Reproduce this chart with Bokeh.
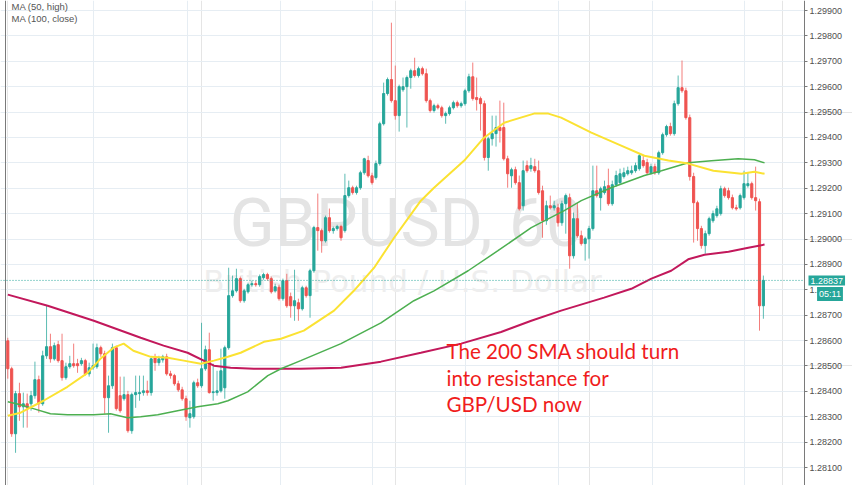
from bokeh.plotting import figure
from bokeh.models import (Range1d, SingleIntervalTicker, PrintfTickFormatter, FixedTicker,
                          Grid, Span, Label, ColumnDataSource, LinearAxis)
from bokeh.embed import file_html
from bokeh.resources import INLINE

# ---------------- data (GBPUSD, 60 min) ----------------
opens = [
    1.28599, 1.28489, 1.28233, 1.28391, 1.28339, 1.28351, 1.28351, 1.28383, 1.28446, 1.28351,
    1.28540, 1.28576, 1.28528, 1.28584, 1.28521, 1.28454, 1.28497, 1.28509, 1.28509, 1.28509,
    1.28521, 1.28469, 1.28493, 1.28497, 1.28572, 1.28548, 1.28375, 1.28422, 1.28572, 1.28383,
    1.28371, 1.28387, 1.28245, 1.28387, 1.28391, 1.28395, 1.28402, 1.28395, 1.28532, 1.28513,
    1.28524, 1.28536, 1.28469, 1.28462, 1.28430, 1.28406, 1.28371, 1.28296, 1.28300, 1.28434,
    1.28422, 1.28489, 1.28564, 1.28395, 1.28395, 1.28402, 1.28414, 1.28572, 1.28777, 1.28796,
    1.28844, 1.28757, 1.28792, 1.28820, 1.28824, 1.28820, 1.28848, 1.28860, 1.28844, 1.28796,
    1.28810, 1.28765, 1.28836, 1.28773, 1.28737, 1.28749, 1.28725, 1.28808, 1.28777, 1.28875,
    1.29045, 1.29033, 1.28993, 1.29084, 1.29033, 1.29041, 1.29049, 1.29033, 1.29171, 1.29202,
    1.29183, 1.29202, 1.29261, 1.29309, 1.29249, 1.29242, 1.29297, 1.29454, 1.29573, 1.29628,
    1.29545, 1.29486, 1.29588, 1.29600, 1.29636, 1.29663, 1.29644, 1.29671, 1.29651, 1.29545,
    1.29506, 1.29525, 1.29517, 1.29486, 1.29494, 1.29517, 1.29537, 1.29525, 1.29533, 1.29584,
    1.29639, 1.29557, 1.29553, 1.29533, 1.29321, 1.29395, 1.29415, 1.29439, 1.29439, 1.29316,
    1.29249, 1.29273, 1.29222, 1.29131, 1.29289, 1.29277, 1.29285, 1.29269, 1.29190, 1.29072,
    1.29131, 1.29123, 1.29123, 1.29064, 1.29139, 1.29163, 1.28934, 1.29080, 1.29013, 1.28982,
    1.29001, 1.29041, 1.29190, 1.29163, 1.29183, 1.29210, 1.29139, 1.29214, 1.29222, 1.29246,
    1.29257, 1.29261, 1.29269, 1.29277, 1.29309, 1.29301, 1.29261, 1.29285, 1.29261, 1.29340,
    1.29411, 1.29443, 1.29415, 1.29533, 1.29596, 1.29584, 1.29478, 1.29246, 1.29143, 1.29041,
    1.28974, 1.29021, 1.29072, 1.29092, 1.29100, 1.29198, 1.29190, 1.29163, 1.29123, 1.29123,
    1.29163, 1.29210, 1.29218, 1.29163, 1.29147, 1.28737,
]
highs = [
    1.28611, 1.28497, 1.28402, 1.28434, 1.28395, 1.28391, 1.28402, 1.28517, 1.28462, 1.28560,
    1.28737, 1.28627, 1.28592, 1.28599, 1.28627, 1.28513, 1.28540, 1.28588, 1.28528, 1.28532,
    1.28528, 1.28513, 1.28588, 1.28588, 1.28580, 1.28560, 1.28462, 1.28588, 1.28580, 1.28458,
    1.28458, 1.28402, 1.28395, 1.28462, 1.28462, 1.28462, 1.28442, 1.28532, 1.28548, 1.28540,
    1.28544, 1.28548, 1.28481, 1.28469, 1.28442, 1.28418, 1.28383, 1.28363, 1.28442, 1.28450,
    1.28670, 1.28580, 1.28631, 1.28509, 1.28481, 1.28568, 1.28580, 1.28887, 1.28856, 1.28883,
    1.28852, 1.28804, 1.28828, 1.28836, 1.28836, 1.28860, 1.28867, 1.28867, 1.28852, 1.28824,
    1.28820, 1.28844, 1.28863, 1.28789, 1.28879, 1.28765, 1.28816, 1.28816, 1.28883, 1.29052,
    1.29179, 1.29041, 1.29092, 1.29120, 1.29049, 1.29056, 1.29056, 1.29257, 1.29230, 1.29210,
    1.29210, 1.29269, 1.29320, 1.29328, 1.29261, 1.29309, 1.29462, 1.29616, 1.29636, 1.29852,
    1.29683, 1.29608, 1.29636, 1.29644, 1.29671, 1.29714, 1.29679, 1.29679, 1.29671, 1.29553,
    1.29533, 1.29533, 1.29525, 1.29502, 1.29525, 1.29545, 1.29545, 1.29541, 1.29592, 1.29651,
    1.29695, 1.29636, 1.29561, 1.29545, 1.29403, 1.29486, 1.29486, 1.29545, 1.29537, 1.29328,
    1.29281, 1.29285, 1.29250, 1.29309, 1.29309, 1.29320, 1.29316, 1.29309, 1.29210, 1.29151,
    1.29171, 1.29151, 1.29139, 1.29151, 1.29179, 1.29179, 1.29104, 1.29143, 1.29033, 1.29009,
    1.29052, 1.29289, 1.29289, 1.29206, 1.29230, 1.29277, 1.29230, 1.29269, 1.29277, 1.29281,
    1.29285, 1.29289, 1.29301, 1.29336, 1.29328, 1.29316, 1.29297, 1.29297, 1.29348, 1.29419,
    1.29450, 1.29458, 1.29545, 1.29644, 1.29703, 1.29596, 1.29490, 1.29261, 1.29151, 1.29052,
    1.29033, 1.29088, 1.29112, 1.29131, 1.29210, 1.29206, 1.29202, 1.29175, 1.29135, 1.29179,
    1.29269, 1.29261, 1.29226, 1.29285, 1.29159, 1.28856,
]
lows = [
    1.28450, 1.28221, 1.28158, 1.28284, 1.28257, 1.28257, 1.28324, 1.28371, 1.28316, 1.28343,
    1.28528, 1.28513, 1.28521, 1.28513, 1.28442, 1.28446, 1.28489, 1.28493, 1.28473, 1.28501,
    1.28462, 1.28458, 1.28485, 1.28489, 1.28536, 1.28312, 1.28237, 1.28410, 1.28324, 1.28316,
    1.28363, 1.28237, 1.28233, 1.28335, 1.28363, 1.28383, 1.28383, 1.28383, 1.28481, 1.28501,
    1.28513, 1.28462, 1.28450, 1.28422, 1.28398, 1.28363, 1.28284, 1.28257, 1.28292, 1.28414,
    1.28414, 1.28481, 1.28391, 1.28363, 1.28383, 1.28395, 1.28371, 1.28564, 1.28769, 1.28789,
    1.28749, 1.28749, 1.28785, 1.28812, 1.28812, 1.28812, 1.28840, 1.28836, 1.28785, 1.28789,
    1.28757, 1.28757, 1.28729, 1.28690, 1.28678, 1.28678, 1.28718, 1.28769, 1.28690, 1.28867,
    1.28954, 1.28946, 1.28986, 1.29025, 1.29021, 1.29033, 1.28993, 1.29025, 1.29163, 1.29175,
    1.29175, 1.29194, 1.29253, 1.29242, 1.29214, 1.29234, 1.29289, 1.29447, 1.29565, 1.29537,
    1.29470, 1.29423, 1.29580, 1.29439, 1.29592, 1.29636, 1.29636, 1.29644, 1.29537, 1.29498,
    1.29498, 1.29510, 1.29478, 1.29454, 1.29486, 1.29510, 1.29517, 1.29517, 1.29525, 1.29576,
    1.29545, 1.29506, 1.29427, 1.29309, 1.29269, 1.29368, 1.29364, 1.29380, 1.29309, 1.29202,
    1.29202, 1.29214, 1.29112, 1.29112, 1.29261, 1.29265, 1.29261, 1.29175, 1.29005, 1.29056,
    1.29116, 1.29112, 1.29049, 1.29052, 1.29021, 1.28883, 1.28923, 1.29005, 1.28974, 1.28915,
    1.28923, 1.29033, 1.29163, 1.29112, 1.29175, 1.29131, 1.29131, 1.29206, 1.29214, 1.29238,
    1.29250, 1.29253, 1.29261, 1.29269, 1.29281, 1.29253, 1.29253, 1.29253, 1.29253, 1.29332,
    1.29403, 1.29407, 1.29407, 1.29525, 1.29576, 1.29470, 1.29230, 1.28986, 1.28993, 1.28962,
    1.28942, 1.29013, 1.29064, 1.29084, 1.29092, 1.29163, 1.29155, 1.29116, 1.29112, 1.29116,
    1.29155, 1.29202, 1.29155, 1.29112, 1.28639, 1.28686,
]
closes = [
    1.28489, 1.28233, 1.28391, 1.28339, 1.28351, 1.28335, 1.28383, 1.28446, 1.28351, 1.28540,
    1.28576, 1.28528, 1.28580, 1.28521, 1.28454, 1.28497, 1.28509, 1.28501, 1.28501, 1.28521,
    1.28469, 1.28493, 1.28501, 1.28572, 1.28548, 1.28375, 1.28422, 1.28572, 1.28332, 1.28324,
    1.28387, 1.28245, 1.28387, 1.28395, 1.28395, 1.28402, 1.28395, 1.28528, 1.28513, 1.28528,
    1.28536, 1.28469, 1.28462, 1.28430, 1.28406, 1.28371, 1.28300, 1.28312, 1.28434, 1.28422,
    1.28489, 1.28564, 1.28395, 1.28398, 1.28402, 1.28481, 1.28572, 1.28777, 1.28796, 1.28844,
    1.28757, 1.28796, 1.28820, 1.28824, 1.28820, 1.28852, 1.28860, 1.28844, 1.28792, 1.28812,
    1.28765, 1.28836, 1.28737, 1.28737, 1.28757, 1.28725, 1.28808, 1.28777, 1.28875, 1.29045,
    1.29033, 1.28993, 1.29084, 1.29033, 1.29041, 1.29049, 1.29005, 1.29171, 1.29202, 1.29183,
    1.29202, 1.29261, 1.29316, 1.29249, 1.29222, 1.29297, 1.29454, 1.29573, 1.29628, 1.29545,
    1.29486, 1.29600, 1.29600, 1.29636, 1.29663, 1.29644, 1.29671, 1.29651, 1.29545, 1.29506,
    1.29525, 1.29517, 1.29486, 1.29494, 1.29517, 1.29537, 1.29525, 1.29533, 1.29584, 1.29639,
    1.29553, 1.29549, 1.29533, 1.29321, 1.29395, 1.29415, 1.29439, 1.29427, 1.29316, 1.29257,
    1.29273, 1.29222, 1.29119, 1.29269, 1.29269, 1.29289, 1.29269, 1.29183, 1.29072, 1.29131,
    1.29123, 1.29131, 1.29064, 1.29139, 1.29171, 1.28934, 1.29080, 1.29013, 1.28982, 1.29001,
    1.29041, 1.29190, 1.29171, 1.29198, 1.29206, 1.29139, 1.29214, 1.29250, 1.29257, 1.29261,
    1.29269, 1.29269, 1.29289, 1.29328, 1.29289, 1.29261, 1.29285, 1.29261, 1.29340, 1.29411,
    1.29443, 1.29415, 1.29533, 1.29596, 1.29584, 1.29478, 1.29246, 1.29143, 1.29041, 1.28974,
    1.29021, 1.29080, 1.29100, 1.29119, 1.29198, 1.29171, 1.29163, 1.29123, 1.29119, 1.29171,
    1.29218, 1.29218, 1.29163, 1.29151, 1.28737, 1.28837,
]

# moving averages (bar index, price)
ma50_high_idx = [0, 3.3, 9.2, 15.4, 20.6, 23.9, 27.3, 29.9, 32.4, 36.9, 41.3, 45.4, 49.8, 53.2,
                 56.8, 60.1, 66.1, 70.5, 76.4, 84.2, 89.3, 94.5, 99.7, 106.6, 110.0, 117.8,
                 122.9, 128.1, 135.8, 139.5, 142.8, 150.6, 158.3, 164.3, 170.5, 175.6, 182.1,
                 189.3, 192.7, 195.3]
ma50_high = [1.28304, 1.28316, 1.28363, 1.28418, 1.28473, 1.28528, 1.28572, 1.28588, 1.28560,
             1.28536, 1.28532, 1.28521, 1.28509, 1.28521, 1.28536, 1.28552, 1.28595, 1.28607,
             1.28639, 1.28718, 1.28796, 1.28886, 1.29005, 1.29151, 1.29202, 1.29309, 1.29399,
             1.29458, 1.29494, 1.29494, 1.29478, 1.29419, 1.29368, 1.29328, 1.29309, 1.29297,
             1.29269, 1.29257, 1.29265, 1.29257]

ma100_close_idx = [0, 3.3, 6.6, 11.0, 15.4, 22.2, 26.5, 30.9, 34.3, 38.7, 43.8, 49.0, 54.2, 56.8,
                   61.9, 67.1, 70.5, 75.6, 86.0, 96.3, 104.8, 110.0, 118.8, 126.5, 135.1, 143.6,
                   148.0, 155.7, 164.3, 168.7, 175.6, 181.6, 188.5, 192.7, 195.3]
ma100_close = [1.28359, 1.28347, 1.28332, 1.28312, 1.28308, 1.28308, 1.28312, 1.28296, 1.28300,
               1.28308, 1.28324, 1.28339, 1.28351, 1.28363, 1.28398, 1.28462, 1.28489, 1.28521,
               1.28588, 1.28670, 1.28757, 1.28796, 1.28875, 1.28954, 1.29045, 1.29112, 1.29151,
               1.29202, 1.29250, 1.29269, 1.29300, 1.29308, 1.29316, 1.29312, 1.29300]

sma200_idx = [0, 10.3, 22.2, 34.3, 40.2, 46.4, 53.2, 57.5, 63.5, 70.5, 75.6, 86.0, 96.3, 106.6,
              117.0, 127.3, 135.1, 142.8, 153.9, 160.9, 166.1, 171.2, 175.6, 179.8, 186.0,
              191.1, 195.3]
sma200 = [1.28781, 1.28737, 1.28678, 1.28611, 1.28580, 1.28552, 1.28501, 1.28493, 1.28489,
          1.28489, 1.28489, 1.28493, 1.28517, 1.28552, 1.28588, 1.28634, 1.28678, 1.28718,
          1.28769, 1.28804, 1.28844, 1.28875, 1.28920, 1.28938, 1.28950, 1.28966, 1.28978]

day_ticks = [22.2, 46.3, 70.3, 94.2, 118.2, 142.1, 166.3, 190.2]
last_price = 1.28837
last_price_text = "1.28837"
countdown_text = "05:11"
legend_texts = ["MA (50, high)", "MA (100, close)"]
note_lines = ["The 200 SMA should turn", "into resistance for", "GBP/USD now"]

# ---------------- styles ----------------
TEAL = "#26a69a"
RED = "#ef5350"
GRID = "#e6edf3"
YELLOW = "#fbe232"
GREEN = "#4caf50"
CRIMSON = "#c2185b"
X0, X1 = -1.884, 218.0          # visible bar-index range (full width)
AXIS_X = 205.6                  # where the price scale sits
Y0, Y1 = 1.280292, 1.299394

n = len(closes)
idx = list(range(n))
up = [c >= o for o, c in zip(opens, closes)]
src = ColumnDataSource(dict(
    x=idx, high=highs, low=lows,
    top=[max(o, c) for o, c in zip(opens, closes)],
    bottom=[min(o, c) for o, c in zip(opens, closes)],
    color=[TEAL if u else RED for u in up],
))

p = figure(frame_width=852, frame_height=485,
           x_range=Range1d(X0, X1), y_range=Range1d(Y0, Y1),
           y_axis_location=None, x_axis_location=None,
           output_backend="svg", toolbar_location=None, min_border=0,
           background_fill_color="white", border_fill_color="white",
           outline_line_color=None)

ax = LinearAxis(fixed_location=AXIS_X)
ax.ticker = SingleIntervalTicker(interval=0.001, num_minor_ticks=0)
ax.formatter = PrintfTickFormatter(format="%.5f")
ax.major_tick_out = 3
ax.major_tick_in = 0
ax.minor_tick_out = 0
ax.minor_tick_in = 0
ax.major_label_standoff = 2
ax.axis_line_color = "#7a7a7a"
ax.major_tick_line_color = "#7a7a7a"
ax.major_label_text_font = "Liberation Sans"
ax.major_label_text_font_size = "9px"
ax.major_label_text_color = "#4f4f4f"
p.add_layout(ax, "right")

hgrid = Grid(dimension=1, ticker=ax.ticker, grid_line_color=GRID)
try:
    hgrid.cross_bounds = (X0, AXIS_X)
except Exception:
    pass
p.add_layout(hgrid)
vgrid = Grid(dimension=0, ticker=FixedTicker(ticks=day_ticks), grid_line_color=GRID)
p.add_layout(vgrid)

# watermark
p.add_layout(Label(x=406, y=262.5, x_units="screen", y_units="screen", text="GBPUSD, 60",
                   text_align="center", text_baseline="alphabetic",
                   text_font="Roboto",
                   text_font_size="66px", text_color="#e4e4e4", level="underlay"))
p.add_layout(Label(x=402, y=204.5, x_units="screen", y_units="screen",
                   text="British Pound / U.S. Dollar",
                   text_align="center", text_baseline="alphabetic", text_font="DejaVu Sans",
                   text_font_size="31px", text_color="#eeeeee", level="underlay"))

# candles
p.segment(x0="x", y0="low", x1="x", y1="high", source=src, line_color="color",
          line_alpha=0.75, line_width=1)
p.vbar(x="x", width=0.55, top="top", bottom="bottom", source=src,
       fill_color="color", line_color="color", line_width=1)

# moving averages
p.line(sma200_idx, sma200, line_color=CRIMSON, line_width=2)
p.line(ma100_close_idx, ma100_close, line_color=GREEN, line_width=1.5)
p.line(ma50_high_idx, ma50_high, line_color=YELLOW, line_width=2)

# last price line (up to the price scale) and left border
p.line([X0, AXIS_X], [last_price, last_price], line_color=TEAL, line_dash="1 2", line_width=1)
p.add_layout(Span(location=-0.59, dimension="height", line_color="#7a7a7a", line_width=1))

# legend texts
for i, t in enumerate(legend_texts):
    p.add_layout(Label(x=11, y=484.3 - 11.5 * i, x_units="screen", y_units="screen", text=t,
                       text_align="left", text_baseline="top", text_font="Liberation Sans",
                       text_font_size="9.5px", text_color="#555555"))

# annotation
for i, t in enumerate(note_lines):
    p.add_layout(Label(x=446, y=134.3 - 26.3 * i, x_units="screen", y_units="screen", text=t,
                       text_align="left", text_baseline="alphabetic", text_font="Lato",
                       text_font_size="20.6px", text_color="#f01c1c"))

# price tag on the scale
p.add_layout(Label(x=808, y=205, x_units="screen", y_units="screen", text=last_price_text,
                   text_align="left", text_baseline="middle", text_font="Liberation Sans",
                   text_font_size="9px", text_color="white", background_fill_color=TEAL,
                   padding=2))
p.add_layout(Label(x=829.5, y=191.5, x_units="screen", y_units="screen", text=countdown_text,
                   text_align="center", text_baseline="middle", text_font="Liberation Sans",
                   text_font_size="9px", text_color="white", background_fill_color=TEAL,
                   padding=2))

open("out.html", "w").write(file_html(p, INLINE))
